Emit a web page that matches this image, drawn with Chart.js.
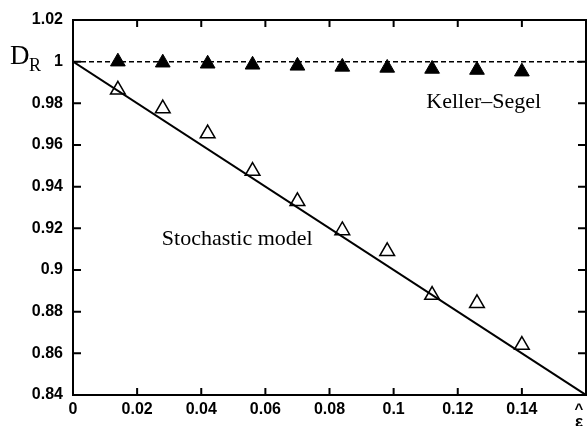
<!DOCTYPE html>
<html>
<head>
<meta charset="utf-8">
<script src="https://cdn.jsdelivr.net/npm/chart.js@4"></script>
<style>
    body { margin: 0; background: #fff; }
    #wrap { width: 587px; height: 426px; position: relative; }
</style>
</head>
<body>
<div id="wrap"><canvas id="chart"></canvas></div>
<script>
// data
var epsilons = [0.014, 0.028, 0.042, 0.056, 0.07, 0.084, 0.098, 0.112, 0.126, 0.14];
var kellerSegel = [1.0, 0.9995, 0.999, 0.9985, 0.998, 0.9975, 0.997, 0.9965, 0.996, 0.9952];
var stochastic = [0.9865, 0.9775, 0.9655, 0.9475, 0.933, 0.919, 0.909, 0.888, 0.884, 0.864];
var theoryX = [0, 0.16];
var theoryY = [1, 0.84];
var referenceLevel = 1;
var xTicks = [0, 0.02, 0.04, 0.06, 0.08, 0.1, 0.12, 0.14, 0.16];
var yTicks = [0.84, 0.86, 0.88, 0.9, 0.92, 0.94, 0.96, 0.98, 1, 1.02];

function pairs(xs, ys) {
    return xs.map(function(x, i) { return { x: x, y: ys[i] }; });
}

// box frame, inward ticks and the free text labels
var framePlugin = {
    id: 'frame',
    afterDraw: function(chart) {
        var ctx = chart.ctx, a = chart.chartArea;
        var xs = chart.scales.x, ys = chart.scales.y;
        ctx.save();
        ctx.strokeStyle = '#000';
        ctx.lineWidth = 2;
        ctx.strokeRect(a.left, a.top, a.right - a.left, a.bottom - a.top);

        ctx.beginPath();
        xTicks.forEach(function(v) {
            var px = xs.getPixelForValue(v);
            ctx.moveTo(px, a.bottom); ctx.lineTo(px, a.bottom - 7);
            ctx.moveTo(px, a.top); ctx.lineTo(px, a.top + 7);
        });
        yTicks.forEach(function(v) {
            var py = ys.getPixelForValue(v);
            ctx.moveTo(a.left, py); ctx.lineTo(a.left + 8, py);
            ctx.moveTo(a.right, py); ctx.lineTo(a.right - 8, py);
        });
        ctx.stroke();

        ctx.fillStyle = '#000';
        ctx.textBaseline = 'alphabetic';
        ctx.font = '22px "Liberation Serif"';
        ctx.fillText('Stochastic model', xs.getPixelForValue(0.0277), ys.getPixelForValue(0.912));
        ctx.fillText('Keller\u2013Segel', xs.getPixelForValue(0.1102), ys.getPixelForValue(0.978));

        ctx.font = '27px "Liberation Serif"';
        ctx.fillText('D', 10, 64);
        ctx.font = '18px "Liberation Serif"';
        ctx.fillText('R', 29, 71);

        // epsilon-hat axis name at the far end of the x axis
        ctx.textAlign = 'center';
        ctx.font = 'bold 17px "Liberation Sans"';
        ctx.fillText('\u03B5', 579, 427);
        ctx.font = 'bold 15px "Liberation Sans"';
        ctx.fillText('^', 579, 414);
        ctx.restore();
    }
};

new Chart(document.getElementById('chart'), {
    type: 'scatter',
    plugins: [framePlugin],
    data: {
        datasets: [{
            label: 'theory',
            type: 'line',
            data: pairs(theoryX, theoryY),
            borderColor: '#000',
            borderWidth: 2,
            pointRadius: 0
        }, {
            label: 'level',
            type: 'line',
            data: pairs(theoryX, [referenceLevel, referenceLevel]),
            borderColor: '#000',
            borderWidth: 1.5,
            borderDash: [5, 3],
            pointRadius: 0
        }, {
            label: 'Stochastic model',
            data: pairs(epsilons, stochastic),
            pointStyle: 'triangle',
            pointRadius: 8.5,
            backgroundColor: '#fff',
            borderColor: '#000',
            borderWidth: 1.5
        }, {
            label: 'Keller-Segel',
            data: pairs(epsilons, kellerSegel),
            pointStyle: 'triangle',
            pointRadius: 8.5,
            backgroundColor: '#000',
            borderColor: '#000',
            borderWidth: 1
        }]
    },
    options: {
        responsive: true,
        maintainAspectRatio: false,
        animation: false,
        layout: { autoPadding: false, padding: { top: 20, right: 1, left: 0, bottom: 0 } },
        plugins: {
            legend: { display: false },
            tooltip: { enabled: false }
        },
        scales: {
            x: {
                type: 'linear',
                min: 0,
                max: 0.16,
                afterBuildTicks: function(scale) {
                    scale.ticks = xTicks.map(function(v) { return { value: v }; });
                },
                afterFit: function(scale) {
                    scale.height = 31;
                    scale.paddingLeft = 0;
                    scale.paddingRight = 0;
                },
                grid: { display: false, drawTicks: false },
                border: { display: false },
                ticks: {
                    padding: 5,
                    maxRotation: 0,
                    autoSkip: false,
                    color: '#000',
                    font: { family: 'Liberation Sans', size: 16, weight: 'bold' },
                    callback: function(v) { return v >= 0.159 ? '' : String(+v.toFixed(2)); }
                }
            },
            y: {
                type: 'linear',
                min: 0.84,
                max: 1.02,
                afterBuildTicks: function(scale) {
                    scale.ticks = yTicks.map(function(v) { return { value: v }; });
                },
                afterFit: function(scale) {
                    scale.width = 73;
                    scale.paddingTop = 0;
                    scale.paddingBottom = 0;
                },
                grid: { display: false, drawTicks: false },
                border: { display: false },
                ticks: {
                    padding: 10,
                    autoSkip: false,
                    color: '#000',
                    font: { family: 'Liberation Sans', size: 16, weight: 'bold' },
                    callback: function(v) { return String(+v.toFixed(2)); }
                }
            }
        }
    }
});
</script>
</body>
</html>
